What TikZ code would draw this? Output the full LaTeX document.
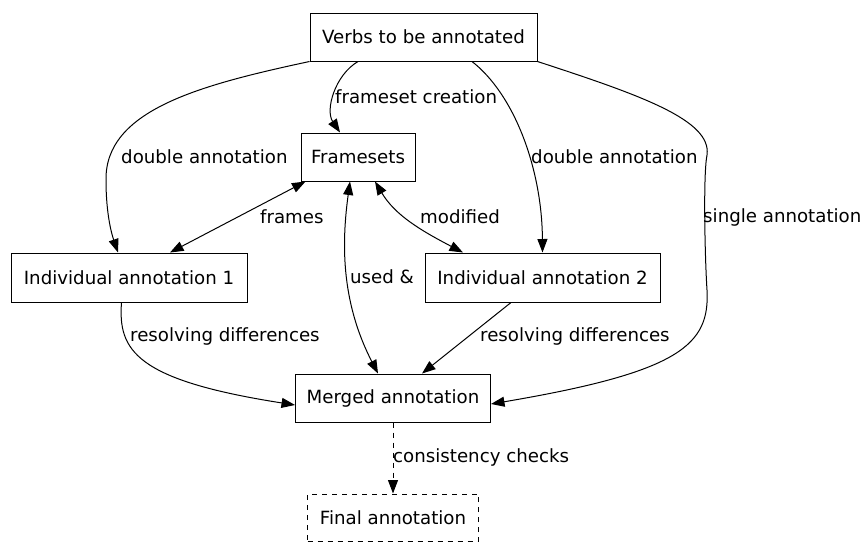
\documentclass[tikz,border=0pt]{standalone}
\usepackage{fontspec}
\setmainfont{DejaVu Sans}
\usetikzlibrary{arrows.meta}
\tikzset{
  box/.style={draw, line width=1pt, inner sep=0pt, font=\fontsize{18.2}{21}\selectfont},
  lbl/.style={inner sep=0pt, anchor=west, font=\fontsize{18.2}{21}\selectfont},
  edge/.style={line width=1pt, -{Triangle[length=13.5pt,width=10pt]}},
  bedge/.style={line width=1pt, {Triangle[length=13.5pt,width=10pt]}-{Triangle[length=13.5pt,width=10pt]}},
  dashline/.style={dash pattern=on 5pt off 5pt}
}
\begin{document}
\begin{tikzpicture}[x=1pt,y=-1pt]
\useasboundingbox (0,0) rectangle (864,542);
% nodes
\node[box, minimum width=227pt, minimum height=48pt] (verbs) at (423.5,37) {Verbs to be annotated};
\node[box, minimum width=114pt, minimum height=48pt] (fs) at (358,157) {Framesets};
\node[box, minimum width=236pt, minimum height=49pt] (ind1) at (129,277.5) {Individual annotation 1};
\node[box, minimum width=235pt, minimum height=49pt] (ind2) at (542.5,277.5) {Individual annotation 2};
\node[box, minimum width=195pt, minimum height=48pt] (merged) at (393,398) {Merged annotation};
\node[box, dashline, minimum width=171pt, minimum height=47pt] (final) at (393,517.5) {Final annotation};
% labels
\node[lbl] (l1) at (335,97) {frameset creation};
\node[lbl] (l2) at (121,157) {double annotation};
\node[lbl] (l3) at (531,157) {double annotation};
\node[lbl] (l4) at (703,217) {single annotation};
\node[lbl] (l5) at (260,217) {frames};
\node[lbl] (l6) at (350,277) {used \&};
\node[lbl] (l7) at (420,217) {modified};
\node[lbl] (l8) at (130,336) {resolving differences};
\node[lbl] (l9) at (480,336) {resolving differences};
\node[lbl] (l10) at (393,457) {consistency checks};
% edges
\draw[edge] ([xshift=-65.5pt]verbs.south) .. controls (335,75) and (325,110) .. ([xshift=-18pt]fs.north);
\draw[edge] (verbs.south west) .. controls (200,85) and (105,110) .. (106,180) .. controls (106,215) and (112,235) .. ([xshift=-11pt]ind1.north);
\draw[edge] ([xshift=48.5pt]verbs.south) .. controls (515,95) and (542,170) .. (ind2.north);
\draw[edge] (verbs.south east) .. controls (640,95) and (712,120) .. (707,155) .. controls (703,175) and (705,260) .. (707,290) .. controls (710,345) and (680,372) .. ([yshift=-6pt]merged.east);
\draw[bedge] ([xshift=5pt]fs.south west) -- ([xshift=41pt]ind1.north);
\draw[bedge] ([xshift=-8pt]fs.south) .. controls (342,240) and (340,300) .. ([xshift=-15pt]merged.north);
\draw[bedge] ([xshift=17pt]fs.south) .. controls (395,215) and (420,230) .. ([xshift=-79.5pt]ind2.north);
\draw[edge] ([xshift=-7.5pt]ind1.south) .. controls (118,350) and (135,380) .. ([yshift=-7pt]merged.west);
\draw[edge] ([xshift=-31.5pt]ind2.south) -- ([xshift=29pt]merged.north);
\draw[edge, dashline] (merged.south) -- (final.north);
\end{tikzpicture}
\end{document}
